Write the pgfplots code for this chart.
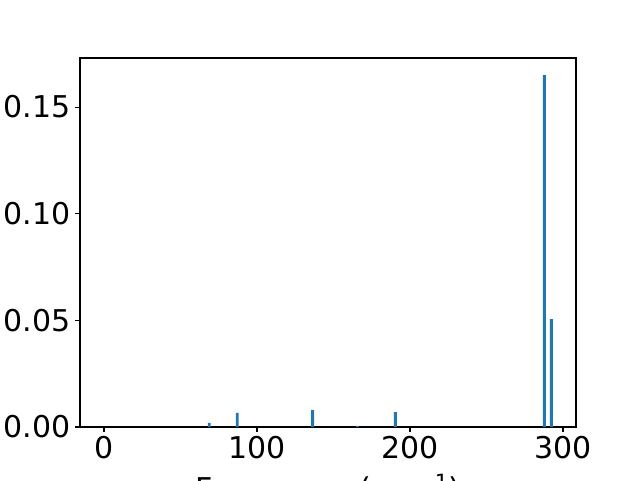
\documentclass[border=0pt]{standalone}
\usepackage{fontspec}
\setmainfont{DejaVu Sans}
\usepackage{pgfplots}
\pgfplotsset{compat=1.18}
\definecolor{c0}{HTML}{1F77B4}
\begin{document}
\begin{tikzpicture}
\begin{axis}[
  at={(60pt,39.75pt)}, anchor=south west,
  scale only axis, width=372pt, height=276.75pt,
  xmin=-15.7, xmax=308.5, ymin=0, ymax=0.173,
  axis line style={line width=0.83pt},
  every tick/.style={line width=0.83pt, black},
  tick align=outside, major tick length=3.65pt,
  xtick pos=lower, ytick pos=left,
  xtick={0,100,200,300}, ytick={0,0.05,0.10,0.15},
  scaled y ticks=false,
  /pgf/number format/assume math mode=true,
  yticklabel style={/pgf/number format/fixed, /pgf/number format/fixed zerofill, /pgf/number format/precision=2},
  tick label style={font=\fontsize{22.5}{27}\selectfont},
  xlabel={Frequency (cm\textsuperscript{−1})},
  xlabel style={font=\fontsize{22.5}{27}\selectfont, at={(axis description cs:0.5,0)}, anchor=north, inner sep=0pt, yshift=-35.5pt},
]
\addplot[ybar, bar width=1.9, fill=c0, draw=none] coordinates {
(68.8,0.0019) (87.1,0.0066) (136.4,0.0080) (165.6,0.0005) (190.4,0.0070) (287.8,0.165) (292.4,0.0506)
};
\end{axis}
\pgfresetboundingbox
\useasboundingbox (0,0) rectangle (480pt,360pt);
\end{tikzpicture}
\end{document}
